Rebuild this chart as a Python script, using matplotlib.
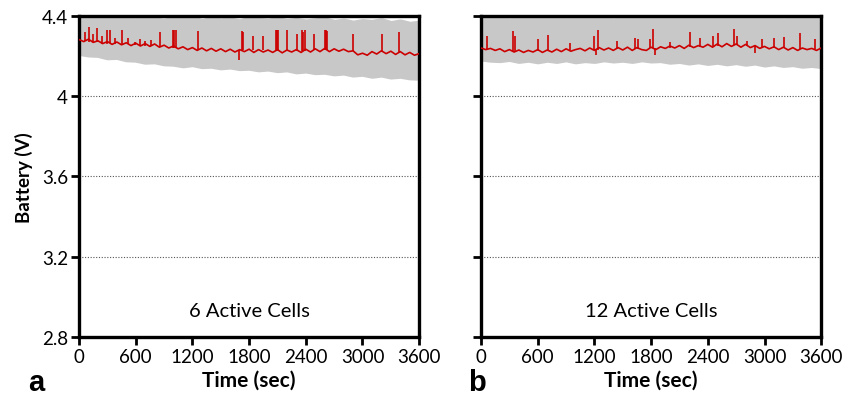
import numpy as np
import matplotlib.pyplot as plt
from matplotlib.ticker import FuncFormatter

# ============ Dataset ============
# red trace baseline, sampled every 50 s from 0 to 3600 s
base_a = [4.282, 4.272, 4.284, 4.268, 4.276, 4.262, 4.272, 4.258, 4.270, 4.256, 4.266, 4.252, 4.264,
          4.250, 4.262, 4.248, 4.260, 4.244, 4.254, 4.240, 4.250, 4.236, 4.246, 4.232, 4.242, 4.228,
          4.240, 4.226, 4.238, 4.224, 4.236, 4.222, 4.234, 4.220, 4.232, 4.222, 4.234, 4.218, 4.232,
          4.220, 4.230, 4.218, 4.232, 4.216, 4.230, 4.220, 4.232, 4.218, 4.234, 4.220, 4.236, 4.222,
          4.238, 4.222, 4.236, 4.224, 4.234, 4.222, 4.226, 4.206, 4.214, 4.204, 4.222, 4.210, 4.226,
          4.212, 4.224, 4.208, 4.222, 4.206, 4.218, 4.204, 4.212]
base_b = [4.240, 4.232, 4.238, 4.228, 4.236, 4.222, 4.232, 4.220, 4.230, 4.218, 4.228, 4.220, 4.232,
          4.218, 4.230, 4.220, 4.234, 4.222, 4.236, 4.224, 4.232, 4.238, 4.226, 4.240, 4.228, 4.242,
          4.230, 4.240, 4.228, 4.242, 4.230, 4.244, 4.228, 4.242, 4.232, 4.228, 4.244, 4.232, 4.246,
          4.238, 4.250, 4.240, 4.252, 4.238, 4.254, 4.242, 4.252, 4.244, 4.258, 4.244, 4.260, 4.246,
          4.262, 4.248, 4.260, 4.244, 4.258, 4.242, 4.252, 4.238, 4.248, 4.236, 4.246, 4.232, 4.244,
          4.230, 4.242, 4.228, 4.240, 4.232, 4.238, 4.228, 4.240]

# spikes on the red trace (time, low end, high end)
spike_t_a = [60, 109, 150, 187, 240, 300, 328, 380, 452, 520, 593, 650, 699, 760, 858, 999, 1010, 1027,
             1264, 1690, 1723, 1740, 1846, 1952, 2083, 2095, 2111, 2199, 2305, 2358, 2370, 2393, 2482,
             2605, 2614, 2623, 2898, 3205, 3382]
spike_lo_a = [4.276, 4.272, 4.268, 4.268, 4.262, 4.262, 4.265, 4.262, 4.262, 4.258, 4.255, 4.252, 4.250,
              4.250, 4.245, 4.238, 4.238, 4.238, 4.232, 4.178, 4.228, 4.228, 4.230, 4.228, 4.226, 4.226,
              4.226, 4.227, 4.225, 4.226, 4.226, 4.226, 4.228, 4.230, 4.230, 4.230, 4.226, 4.218, 4.214]
spike_hi_a = [4.318, 4.344, 4.310, 4.339, 4.300, 4.332, 4.330, 4.290, 4.330, 4.290, 4.270, 4.285, 4.277,
              4.280, 4.319, 4.332, 4.330, 4.332, 4.327, 4.230, 4.327, 4.319, 4.302, 4.302, 4.332, 4.330,
              4.332, 4.332, 4.310, 4.332, 4.320, 4.332, 4.310, 4.332, 4.330, 4.327, 4.310, 4.310, 4.322]

spike_t_b = [60, 335, 360, 607, 713, 942, 1197, 1215, 1243, 1437, 1631, 1666, 1790, 1825, 1840, 2002,
             2213, 2319, 2460, 2513, 2672, 2708, 2813, 2900, 2972, 3096, 3202, 3378, 3537]
spike_lo_b = [4.236, 4.226, 4.226, 4.226, 4.226, 4.228, 4.232, 4.205, 4.232, 4.236, 4.236, 4.236, 4.238,
              4.238, 4.205, 4.240, 4.244, 4.246, 4.252, 4.252, 4.254, 4.254, 4.252, 4.215, 4.246, 4.240,
              4.240, 4.236, 4.234]
spike_hi_b = [4.302, 4.327, 4.302, 4.283, 4.305, 4.267, 4.299, 4.235, 4.332, 4.277, 4.290, 4.285, 4.283,
              4.335, 4.238, 4.270, 4.319, 4.290, 4.299, 4.315, 4.335, 4.302, 4.277, 4.250, 4.285, 4.290,
              4.295, 4.315, 4.285]

# grey raw envelope, sampled every 100 s
upper_a = [4.386, 4.378, 4.384, 4.372, 4.380, 4.376, 4.370, 4.382, 4.374, 4.368, 4.378, 4.372, 4.380,
           4.366, 4.376, 4.370, 4.374, 4.364, 4.378, 4.372, 4.368, 4.376, 4.366, 4.372, 4.364, 4.370,
           4.374, 4.362, 4.368, 4.358, 4.366, 4.362, 4.370, 4.356, 4.364, 4.352, 4.358]
lower_a = [4.224, 4.216, 4.214, 4.202, 4.204, 4.192, 4.190, 4.180, 4.182, 4.172, 4.170, 4.162, 4.168,
           4.158, 4.160, 4.152, 4.156, 4.148, 4.150, 4.142, 4.146, 4.138, 4.142, 4.132, 4.136, 4.128,
           4.130, 4.122, 4.126, 4.116, 4.120, 4.110, 4.116, 4.106, 4.110, 4.102, 4.100]
upper_b = [4.380, 4.372, 4.378, 4.370, 4.376, 4.382, 4.372, 4.378, 4.384, 4.370, 4.376, 4.380, 4.372,
           4.378, 4.370, 4.376, 4.382, 4.372, 4.378, 4.384, 4.374, 4.380, 4.386, 4.376, 4.382, 4.372,
           4.378, 4.384, 4.374, 4.380, 4.372, 4.378, 4.370, 4.376, 4.380, 4.372, 4.376]
lower_b = [4.196, 4.190, 4.188, 4.194, 4.184, 4.190, 4.182, 4.190, 4.184, 4.192, 4.182, 4.188, 4.184,
           4.192, 4.186, 4.190, 4.184, 4.192, 4.186, 4.188, 4.180, 4.184, 4.176, 4.182, 4.174, 4.180,
           4.172, 4.178, 4.170, 4.176, 4.166, 4.172, 4.164, 4.168, 4.160, 4.164, 4.158]

panels = [
    ("6 Active Cells", "a", base_a, spike_t_a, spike_lo_a, spike_hi_a, upper_a, lower_a),
    ("12 Active Cells", "b", base_b, spike_t_b, spike_lo_b, spike_hi_b, upper_b, lower_b),
]

x_ticks = [0, 600, 1200, 1800, 2400, 3000, 3600]
y_ticks = [2.8, 3.2, 3.6, 4.0, 4.4]

plt.rcParams['font.family'] = ['Lato', 'DejaVu Sans']

fig = plt.figure(figsize=(8.59, 4.02), dpi=100)
lefts = [0.092, 0.560]
letter_x = [0.033, 0.545]
red = '#cc0000'
grey = '#c8c8c8'

for i, (label, letter, base, st, slo, shi, up, lo) in enumerate(panels):
    ax = fig.add_axes([lefts[i], 0.159, 0.396, 0.799])
    t_env = np.linspace(0, 3600, len(up))
    ax.fill_between(t_env, lo, up, color=grey, lw=6, edgecolor=grey, zorder=1)
    t_base = np.linspace(0, 3600, len(base))
    ax.plot(t_base, base, color=red, lw=1.2, zorder=3)
    ax.vlines(st, slo, shi, color=red, lw=1.2, zorder=3)

    for y in [3.2, 3.6, 4.0]:
        ax.axhline(y, color='#555555', lw=0.8, ls=(0, (1, 1.5)), zorder=0)

    ax.set_xlim(0, 3600)
    ax.set_ylim(2.8, 4.4)
    ax.set_xticks(x_ticks)
    ax.set_yticks(y_ticks)
    ax.yaxis.set_major_formatter(FuncFormatter(lambda v, p: f'{v:g}'))
    ax.tick_params(direction='out', length=6, width=2, labelsize=13.5, pad=2)
    if i == 1:
        ax.set_yticklabels([])
    else:
        ax.set_ylabel('Battery (V)', fontsize=13.5, fontweight='bold', labelpad=6)
    ax.set_xlabel('Time (sec)', fontsize=15, fontweight='bold', labelpad=3)
    for s in ax.spines.values():
        s.set_linewidth(2.4)
    ax.text(0.5, 0.055, label, transform=ax.transAxes, ha='center', va='bottom', fontsize=14.5)
    fig.text(letter_x[i], 0.012, letter, fontsize=21, fontweight='bold',
             family='Liberation Sans', ha='left', va='bottom')

fig.savefig('out.png', dpi=100)
